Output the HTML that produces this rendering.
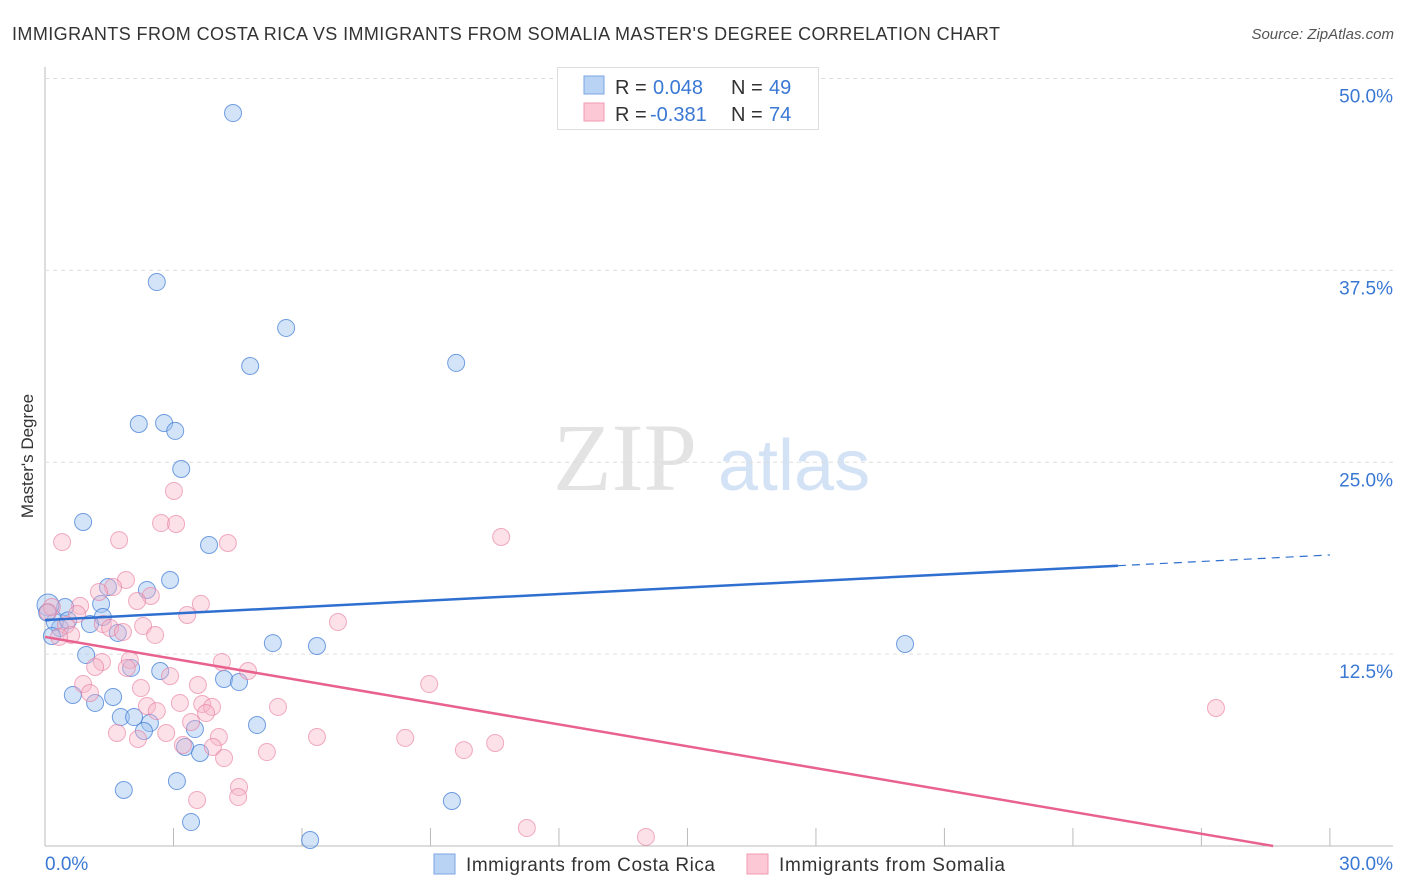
<!DOCTYPE html>
<html><head><meta charset="utf-8"><style>
body{margin:0;background:#fff;font-family:"Liberation Sans",sans-serif}
svg{display:block}
</style></head><body>
<svg id="c" width="1406" height="892" xmlns="http://www.w3.org/2000/svg">
<text x="12" y="40" font-size="18" fill="#333" textLength="988">IMMIGRANTS FROM COSTA RICA VS IMMIGRANTS FROM SOMALIA MASTER'S DEGREE CORRELATION CHART</text>
<text x="1394" y="39" font-size="15" fill="#555" font-style="italic" text-anchor="end">Source: ZipAtlas.com</text>
<text x="33" y="456" font-size="17" fill="#333" text-anchor="middle" transform="rotate(-90 33 456)">Master's Degree</text>
<text x="553" y="490" font-size="96" fill="#e3e3e3" font-family="Liberation Serif,serif">ZIP</text>
<text x="718" y="490" font-size="72" fill="#d3e2f5">atlas</text>
<g id="grid"></g><g id="pts"></g><g id="lines"></g>
<g>
<rect x="557.5" y="67.5" width="261" height="62" fill="#fff" stroke="#ddd"/>
<rect x="584" y="76" width="20" height="18" fill="#b9d3f5" stroke="#7aa6e0"/>
<rect x="584" y="103" width="20" height="18" fill="#fcc8d6" stroke="#f09ab2"/>
<text y="94" font-size="20" fill="#333"><tspan x="615">R =</tspan><tspan x="653" fill="#3a78d4">0.048</tspan><tspan x="731">N =</tspan><tspan x="769" fill="#3a78d4">49</tspan></text>
<text y="121" font-size="20" fill="#333"><tspan x="615">R =</tspan><tspan x="650" fill="#3a78d4">-0.381</tspan><tspan x="731">N =</tspan><tspan x="769" fill="#3a78d4">74</tspan></text>
</g>
<g>
<rect x="434" y="854" width="21" height="20" fill="#b9d3f5" stroke="#7aa6e0"/>
<text x="466" y="871" font-size="19" fill="#333" textLength="249">Immigrants from Costa Rica</text>
<rect x="747" y="854" width="21" height="20" fill="#fcc8d6" stroke="#f09ab2"/>
<text x="779" y="871" font-size="19" fill="#333" textLength="226">Immigrants from Somalia</text>
</g>
<text x="45" y="870" font-size="19" fill="#3a78d4">0.0%</text>
<text x="1393" y="870" font-size="19" fill="#3a78d4" text-anchor="end">30.0%</text>
</svg>
<script>
const yTicks=[12.5,25,37.5,50];
const yTickLabels=["12.5%","25.0%","37.5%","50.0%"];
const xTicks=[0,3,6,9,12,15,18,21,24,27,30];
const blueX=[4.39,2.61,5.63,4.79,9.60,2.19,2.78,3.04,3.18,0.89,3.83,2.92,2.38,1.47,1.31,0.47,0.07,1.35,1.05,0.35,0.23,0.16,1.70,5.32,6.35,20.08,0.96,2.69,2.01,4.18,4.53,0.65,1.59,1.17,1.77,2.08,2.45,2.31,4.95,3.50,3.27,3.62,3.08,1.84,9.50,3.41,6.19,0.54,0.05];
const blueY=[47.75,36.74,33.75,31.27,31.47,27.49,27.56,27.04,24.56,21.11,19.61,17.33,16.68,16.87,15.77,15.57,15.7,14.92,14.46,14.2,14.59,13.68,13.88,13.22,13.03,13.16,12.44,11.4,11.6,10.88,10.68,9.84,9.71,9.32,8.4,8.4,8.01,7.49,7.88,7.62,6.45,6.06,4.23,3.65,2.93,1.56,0.39,14.7,15.2];
const pinkX=[3.01,2.71,3.06,0.40,1.73,4.27,10.65,1.89,1.59,1.26,2.47,2.15,3.64,0.82,0.16,0.75,3.32,6.84,0.49,1.35,2.29,1.52,0.61,1.82,2.57,0.33,0.07,4.13,1.98,1.33,1.17,1.91,4.74,2.92,3.57,2.24,8.97,0.89,1.05,3.15,5.44,3.67,3.90,2.38,3.76,2.61,3.41,1.68,2.83,2.17,4.06,6.35,8.41,10.51,9.78,3.92,3.22,5.18,4.18,4.53,4.51,3.55,11.25,14.03,27.34];
const pinkY=[23.13,21.04,20.98,19.8,19.93,19.74,20.13,17.33,16.87,16.55,16.29,15.96,15.77,15.64,15.57,15.11,15.05,14.59,14.4,14.46,14.33,14.2,13.75,13.94,13.75,13.62,15.24,11.99,12.12,11.99,11.66,11.6,11.4,11.07,10.49,10.29,10.55,10.55,9.97,9.32,9.06,9.25,9.06,9.12,8.66,8.79,8.08,7.36,7.36,6.97,7.1,7.1,7.04,6.71,6.25,6.45,6.58,6.12,5.73,3.84,3.19,3.0,1.17,0.59,8.99];
const blueFit=[14.72,18.96];
const pinkFit=[13.62,-0.475];
const X=v=>45+v*42.83, Y=v=>846-v*15.35;
const NS="http://www.w3.org/2000/svg";
function mk(t,a,p){const e=document.createElementNS(NS,t);for(const k in a)e.setAttribute(k,a[k]);p.appendChild(e);return e;}
const g=document.getElementById('grid');
mk('line',{x1:45,y1:67,x2:45,y2:846,stroke:'#bbb'},g);
mk('line',{x1:45,y1:846,x2:1393,y2:846,stroke:'#bbb'},g);
yTicks.forEach((t,i)=>{
 const l=mk('line',{x1:45,y1:Y(t),x2:1393,y2:Y(t),stroke:'#ddd','stroke-dasharray':'4 4'},g);
 
 
 const tx=mk('text',{x:1393,y:Y(t)+24,'font-size':19,fill:'#3a78d4','text-anchor':'end'},g);
 tx.textContent=yTickLabels[i];
 
 
});
xTicks.forEach(t=>{const l=mk('line',{x1:X(t),y1:828,x2:X(t),y2:846,stroke:'#bbb'},g);
 
 });
const p=document.getElementById('pts');
blueX.forEach((x,i)=>{const c=mk('circle',{cx:X(x),cy:Y(blueY[i]),r:i==16?11:8.5,fill:'rgba(160,196,240,0.45)',stroke:'rgba(58,120,212,0.7)','stroke-width':1},p);
 
 });
pinkX.forEach((x,i)=>{const c=mk('circle',{cx:X(x),cy:Y(pinkY[i]),r:8.5,fill:'rgba(248,180,200,0.4)',stroke:'rgba(232,120,155,0.6)','stroke-width':1},p);
 
 });
const L=document.getElementById('lines');
const bAt=v=>blueFit[0]+(blueFit[1]-blueFit[0])*v/30;
let b1=mk('line',{x1:X(0),y1:Y(bAt(0)),x2:X(25.05),y2:Y(bAt(25.05)),stroke:'#2f6fd0','stroke-width':2.5},L);


let b2=mk('line',{x1:X(25.05),y1:Y(bAt(25.05)),x2:X(30),y2:Y(bAt(30)),stroke:'#2f6fd0','stroke-width':1.2,'stroke-dasharray':'8 6'},L);


const xz=-pinkFit[0]/pinkFit[1];
let p1=mk('line',{x1:X(0),y1:Y(pinkFit[0]),x2:X(xz),y2:Y(0),stroke:'#e8618f','stroke-width':2.5},L);


</script>
</body></html>
